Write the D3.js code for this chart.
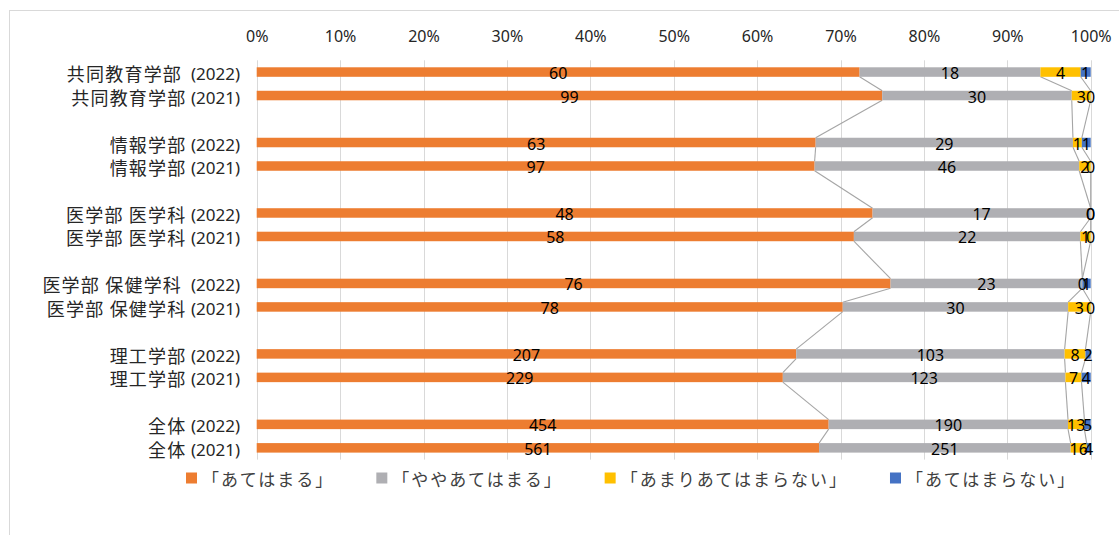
<!DOCTYPE html>
<html lang="ja">
<head>
<meta charset="utf-8">
<script src="https://cdn.jsdelivr.net/npm/d3@7"></script>
<style>
  html, body { margin: 0; padding: 0; background: #fff; }
  svg { display: block; }
  text { white-space: pre; }
</style>
</head>
<body>
<svg id="chart" width="1119" height="535"></svg>
<script>
// Survey responses by faculty and year (counts per answer)
const categories = [
  "共同教育学部  (2022)", "共同教育学部 (2021)",
  "情報学部 (2022)", "情報学部 (2021)",
  "医学部 医学科 (2022)", "医学部 医学科 (2021)",
  "医学部 保健学科  (2022)", "医学部 保健学科 (2021)",
  "理工学部 (2022)", "理工学部 (2021)",
  "全体 (2022)", "全体 (2021)"
];
const agree     = [60, 99, 63, 97, 48, 58, 76, 78, 207, 229, 454, 561];
const somewhat  = [18, 30, 29, 46, 17, 22, 23, 30, 103, 123, 190, 251];
const notMuch   = [4, 3, 1, 2, 0, 1, 0, 3, 8, 7, 13, 16];
const notAtAll  = [1, 0, 1, 0, 0, 0, 1, 0, 2, 4, 5, 4];
const seriesNames = ["「あてはまる」", "「ややあてはまる」", "「あまりあてはまらない」", "「あてはまらない」"];
const seriesColors = ["#ED7D31", "#AFAFB3", "#FFC000", "#4472C4"];
const tickValues = [0, 0.1, 0.2, 0.3, 0.4, 0.5, 0.6, 0.7, 0.8, 0.9, 1];

const svg = d3.select("#chart");
const W = 1119, H = 535;
const latinFont = "'Noto Sans', 'Noto Sans CJK JP', sans-serif";
const cjkFont = "'Noto Sans CJK JP', 'Noto Sans', sans-serif";

// chart frame
svg.append("rect")
  .attr("x", 9.5).attr("y", 10.5)
  .attr("width", W).attr("height", H)
  .attr("fill", "#fff").attr("stroke", "#D9D9D9").attr("stroke-width", 1);

// rows: each year pair is followed by an empty slot (except the last)
const keys = ["s0", "s1", "s2", "s3"];
const rows = categories.map((c, i) => ({
  cat: c, s0: agree[i], s1: somewhat[i], s2: notMuch[i], s3: notAtAll[i],
  vals: [agree[i], somewhat[i], notMuch[i], notAtAll[i]]
}));
const slots = [];
categories.forEach((c, i) => {
  slots.push(c);
  if (i % 2 === 1 && i < categories.length - 1) slots.push("gap" + i);
});

const plotTop = 60.3, plotBottom = 459.6;
const x = d3.scaleLinear().domain([0, 1]).range([256.7, 1090.7]);
const y = d3.scaleBand().domain(slots).range([plotTop, plotBottom])
  .paddingInner(0.595).paddingOuter(0.2975);
const bh = y.bandwidth();

const stacked = d3.stack().keys(keys).offset(d3.stackOffsetExpand)(rows);

// vertical gridlines
svg.append("g").selectAll("line").data(tickValues).join("line")
  .attr("x1", d => Math.round(x(d)) + 0.5).attr("x2", d => Math.round(x(d)) + 0.5)
  .attr("y1", plotTop).attr("y2", plotBottom)
  .attr("stroke", "#D9D9D9").attr("stroke-width", 1);

// top percentage axis
const axis = svg.append("g").attr("transform", `translate(0,${plotTop})`)
  .call(d3.axisTop(x).tickValues(tickValues).tickFormat(d3.format(".0%")).tickSize(0).tickPadding(18));
axis.select(".domain").remove();
axis.selectAll("text")
  .attr("font-family", latinFont).attr("font-size", 16).attr("fill", "#262626");

// series lines between consecutive bars
const seriesLines = [];
for (let i = 0; i < rows.length - 1; i++) {
  for (let k = 0; k < 3; k++) {
    seriesLines.push({
      x1: stacked[k][i][1], y1: y(rows[i].cat) + bh,
      x2: stacked[k][i + 1][1], y2: y(rows[i + 1].cat)
    });
  }
}
svg.append("g").selectAll("line").data(seriesLines).join("line")
  .attr("x1", d => x(d.x1)).attr("y1", d => d.y1)
  .attr("x2", d => x(d.x2)).attr("y2", d => d.y2)
  .attr("stroke", "#A5A5A5").attr("stroke-width", 1.1);

// stacked bars
svg.append("g").selectAll("g").data(stacked).join("g")
  .attr("fill", (d, i) => seriesColors[i])
  .selectAll("rect").data(d => d).join("rect")
  .attr("x", d => x(d[0]))
  .attr("width", d => Math.max(0, x(d[1]) - x(d[0])))
  .attr("y", d => y(d.data.cat))
  .attr("height", bh);

// value labels centred on each segment
const labels = [];
stacked.forEach((s, k) => s.forEach((d, i) => {
  labels.push({ v: rows[i].vals[k], cx: (d[0] + d[1]) / 2, cy: y(rows[i].cat) + bh / 2 });
}));
svg.append("g").selectAll("text").data(labels).join("text")
  .attr("x", d => x(d.cx)).attr("y", d => d.cy + 1)
  .attr("text-anchor", "middle").attr("dominant-baseline", "central")
  .attr("font-family", latinFont).attr("font-size", 16).attr("fill", "#000")
  .text(d => d.v);

// category labels
const catG = svg.append("g");
rows.forEach(r => {
  const m = r.cat.match(/^(.*?)(\s+\(\d{4}\))$/);
  const t = catG.append("text")
    .attr("x", 240).attr("y", y(r.cat) + bh / 2 + 1)
    .attr("text-anchor", "end").attr("dominant-baseline", "central")
    .attr("font-size", 17).attr("fill", "#262626");
  t.append("tspan").attr("font-family", cjkFont).attr("font-size", 18)
    .attr("letter-spacing", 1.2).text(m[1]);
  t.append("tspan").attr("font-family", latinFont).text(m[2]);
});

// legend
const legend = svg.append("g").attr("transform", "translate(0,478)");
let lx = 186;
seriesNames.forEach((name, i) => {
  legend.append("rect").attr("x", lx).attr("y", -5.5).attr("width", 11).attr("height", 11)
    .attr("fill", seriesColors[i]);
  const t = legend.append("text")
    .attr("x", lx + 16).attr("y", 0).attr("dominant-baseline", "central")
    .attr("font-family", cjkFont).attr("font-size", 17).attr("letter-spacing", 2)
    .attr("fill", "#404040").text(name);
  lx = lx + 16 + t.node().getComputedTextLength() + 42;
});
</script>
</body>
</html>
